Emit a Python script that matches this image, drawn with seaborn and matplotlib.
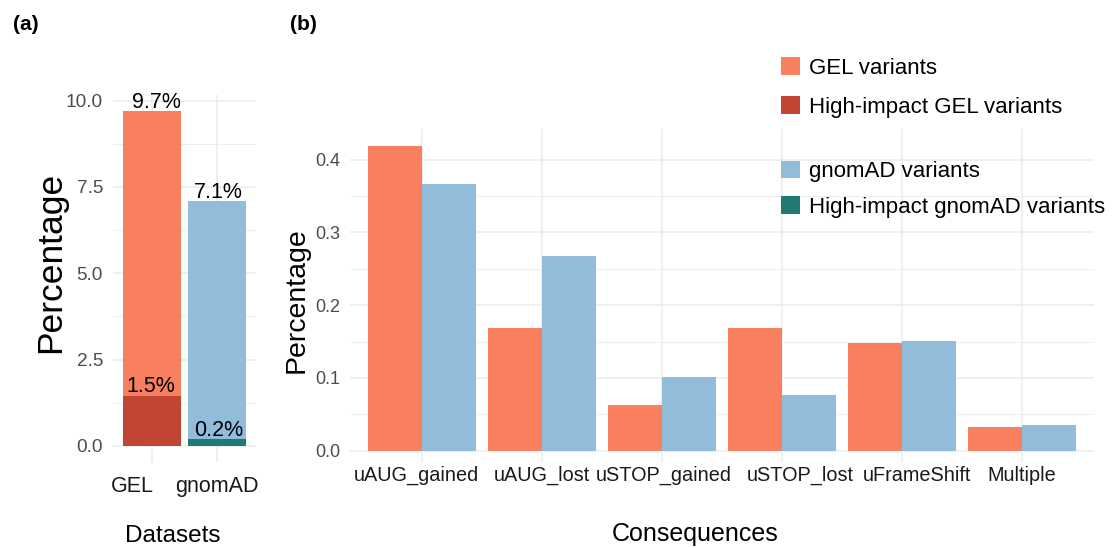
import numpy as np
import pandas as pd
import matplotlib
matplotlib.use("Agg")
import matplotlib.pyplot as plt
import matplotlib.transforms as mtransforms
from matplotlib.patches import Patch
import seaborn as sns

# ---------------- data ----------------
# Panel (a)
datasets = ["GEL", "gnomAD"]
all_pct = [9.71, 7.09]
high_pct = [1.45, 0.19]
all_labels = ["9.7%", "7.1%"]
high_labels = ["1.5%", "0.2%"]
a_yticks = [0.0, 2.5, 5.0, 7.5, 10.0]

# Panel (b)
consequences = ["uAUG_gained", "uAUG_lost", "uSTOP_gained",
                "uSTOP_lost", "uFrameShift", "Multiple"]
gel_pct = [0.419, 0.168, 0.063, 0.168, 0.148, 0.0325]
gnomad_pct = [0.367, 0.268, 0.1007, 0.077, 0.151, 0.0357]
b_yticks = [0.0, 0.1, 0.2, 0.3, 0.4]

legend_gel = ["GEL variants", "High-impact GEL variants"]
legend_gnomad = ["gnomAD variants", "High-impact gnomAD variants"]

# ---------------- style ----------------
C_GEL = "#F8805F"
C_GEL_HI = "#C04535"
C_GNO = "#91BDDA"
C_GNO_HI = "#1F7A73"
GRID = "#EBEBEB"
TICKGRAY = "#4D4D4D"

sns.set_theme(style="white")
plt.rcParams["font.family"] = ["Liberation Sans", "DejaVu Sans"]
plt.rcParams["text.color"] = "black"
plt.rcParams["axes.labelcolor"] = "black"

W, H = 1116, 548
fig = plt.figure(figsize=(W / 100, H / 100), dpi=100)


def ax_rect(l, t, r, b):
    return [l / W, 1 - b / H, (r - l) / W, (b - t) / H]


axa = fig.add_axes(ax_rect(113, 95, 256, 462))
axb = fig.add_axes(ax_rect(350, 129.3, 1094, 461.7))

# ---------------- panel (a) ----------------
dfa = pd.DataFrame({"Datasets": datasets, "all": all_pct, "high": high_pct})
sns.barplot(data=dfa, x="Datasets", y="all", hue="Datasets",
            palette=[C_GEL, C_GNO], width=0.9, saturation=1,
            linewidth=0, legend=False, ax=axa, order=datasets, hue_order=datasets)
sns.barplot(data=dfa, x="Datasets", y="high", hue="Datasets",
            palette=[C_GEL_HI, C_GNO_HI], width=0.9, saturation=1,
            linewidth=0, legend=False, ax=axa, order=datasets, hue_order=datasets)

label_dx = [3, 1]
for i, (v, lab) in enumerate(zip(all_pct, all_labels)):
    axa.annotate(lab, (i, v), xytext=(label_dx[i], 2.0), textcoords="offset points",
                 ha="center", va="baseline", fontsize=15.5, color="black")
for i, (v, lab) in enumerate(zip(high_pct, high_labels)):
    axa.annotate(lab, (i, v), xytext=(-1 if i == 0 else 1, 2.4), textcoords="offset points",
                 ha="center", va="baseline", fontsize=15.5, color="black")

axa.set_xlim(-0.6, 1.6)
axa.set_ylim(-0.47, 10.165)
axa.set_yticks(a_yticks)
axa.set_yticklabels([f"{t:.1f}" for t in a_yticks])
axa.set_yticks([1.25, 3.75, 6.25, 8.75], minor=True)

# ---------------- panel (b) ----------------
dfb = pd.DataFrame({
    "Consequences": consequences * 2,
    "Percentage": gel_pct + gnomad_pct,
    "Dataset": ["GEL"] * len(consequences) + ["gnomAD"] * len(consequences),
})
sns.barplot(data=dfb, x="Consequences", y="Percentage", hue="Dataset",
            palette=[C_GEL, C_GNO], width=0.9, saturation=1, linewidth=0,
            legend=False, ax=axb, order=consequences, hue_order=["GEL", "gnomAD"])
axb.set_xlim(-0.6, len(consequences) - 0.4)
axb.set_ylim(-0.0151, 0.4416)
axb.set_yticks(b_yticks)
axb.set_yticklabels([f"{t:.1f}" for t in b_yticks])
axb.set_yticks([0.05, 0.15, 0.25, 0.35], minor=True)

# ---------------- common axis styling ----------------
for ax in (axa, axb):
    for s in ax.spines.values():
        s.set_visible(False)
    ax.set_axisbelow(True)
    ax.grid(True, which="major", axis="both", color=GRID, linewidth=1.1)
    ax.grid(True, which="minor", axis="y", color=GRID, linewidth=0.6)
    ax.tick_params(which="both", length=0)
    ax.tick_params(axis="y", colors=TICKGRAY, pad=7.2)

axa.tick_params(axis="y", labelsize=13.7)
axa.tick_params(axis="x", labelsize=15.5, labelcolor="#1A1A1A", pad=10)
axb.tick_params(axis="y", labelsize=13)
axb.tick_params(axis="x", labelsize=14.3, labelcolor="#1A1A1A", pad=3)

axa.set_ylabel("Percentage", fontsize=25.5, color="black")
axa.yaxis.set_label_coords(-0.32, 0.545)
axa.set_xlabel("Datasets", fontsize=17.5, color="black")
axa.xaxis.set_label_coords(0.416, -0.172)

axb.set_ylabel("Percentage", fontsize=20.5, color="black")
axb.yaxis.set_label_coords(-0.0538, 0.4865)
axb.set_xlabel("Consequences", fontsize=18, color="black")
axb.xaxis.set_label_coords(0.4637, -0.1805)

# irregular horizontal placement of category labels, as in the reference
xoff_a = [-20, 0]
xoff_b = [-6, 0, 2, 18, 15, 0]
for ax, offs in ((axa, xoff_a), (axb, xoff_b)):
    for lbl, dx in zip(ax.get_xticklabels(), offs):
        lbl.set_transform(lbl.get_transform() +
                          mtransforms.ScaledTranslation(dx / 100, 0, fig.dpi_scale_trans))

# ---------------- legends ----------------
leg_kw = dict(loc="upper left", frameon=False, fontsize=16,
              handlelength=0.86, handleheight=0.86, handletextpad=0.4,
              borderpad=0, borderaxespad=0, labelcolor="black")
leg1 = fig.legend(handles=[Patch(fc=C_GEL, ec="none"), Patch(fc=C_GEL_HI, ec="none")],
                  labels=legend_gel, bbox_to_anchor=(781 / W, 1 - 57 / H),
                  labelspacing=0.78, **leg_kw)
leg2 = fig.legend(handles=[Patch(fc=C_GNO, ec="none"), Patch(fc=C_GNO_HI, ec="none")],
                  labels=legend_gnomad, bbox_to_anchor=(781 / W, 1 - 160.6 / H),
                  labelspacing=0.64, **leg_kw)

# ---------------- panel tags ----------------
fig.text(12.7 / W, 1 - 24 / H, "(a)", fontsize=15, fontweight="bold",
         ha="left", va="center")
fig.text(290 / W, 1 - 24 / H, "(b)", fontsize=15, fontweight="bold",
         ha="left", va="center")

fig.savefig("out.png", dpi=100)
